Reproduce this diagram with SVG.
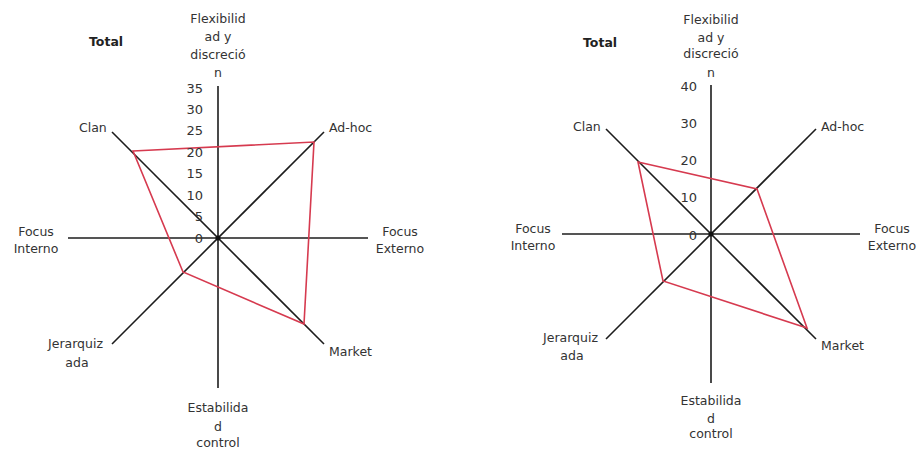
<svg xmlns="http://www.w3.org/2000/svg" width="917" height="449" viewBox="0 0 917 449">
<style>
.bg{fill:#ffffff}
.ax{stroke:#1c1c1c;stroke-width:1.6;fill:none}
.data{stroke:#d63a4f;stroke-width:1.6;fill:none;stroke-linejoin:miter}
text{font-family:"DejaVu Sans","Verdana",sans-serif;font-size:12.5px;fill:#333333}
.c{text-anchor:middle}
.r{text-anchor:end}
.tot{font-weight:bold;font-size:12.5px;fill:#222222}
.tick{font-size:13px}
</style>
<rect class="bg" x="0" y="0" width="917" height="449"/>

<g id="chart-left">
  <g id="left-axes">
    <line class="ax" x1="218" y1="86" x2="218" y2="388"/>
    <line class="ax" x1="68" y1="238" x2="368" y2="238"/>
    <line class="ax" x1="112" y1="132" x2="324" y2="344"/>
    <line class="ax" x1="324" y1="132" x2="112" y2="344"/>
    <circle cx="218" cy="238" r="2.5" fill="#111"/>
  </g>
  <g id="left-series">
    <polygon class="data" points="133,151 314,142 304,324 183,272"/>
  </g>
  <g id="left-ticks">
    <text class="r tick" x="203" y="92.5">35</text>
    <text class="r tick" x="203" y="114">30</text>
    <text class="r tick" x="203" y="135.4">25</text>
    <text class="r tick" x="203" y="156.8">20</text>
    <text class="r tick" x="203" y="178.3">15</text>
    <text class="r tick" x="203" y="199.7">10</text>
    <text class="r tick" x="203" y="221.1">5</text>
    <text class="r tick" x="203" y="242.5">0</text>
  </g>
  <g id="left-labels">
    <text class="tot" x="89" y="46">Total</text>
    <text class="c" x="218" y="22.5">Flexibilid</text>
    <text class="c" x="218" y="41">ad y</text>
    <text class="c" x="218" y="58.5">discreció</text>
    <text class="c" x="218" y="76.5">n</text>
    <text x="79" y="131.5">Clan</text>
    <text x="329" y="131.5">Ad-hoc</text>
    <text class="c" x="36" y="235.5">Focus</text>
    <text class="c" x="36" y="252.5">Interno</text>
    <text class="c" x="400" y="235.5">Focus</text>
    <text class="c" x="400" y="252.5">Externo</text>
    <text x="48" y="347.5">Jerarquiz</text>
    <text class="c" x="77" y="366.5">ada</text>
    <text x="329" y="355.5">Market</text>
    <text class="c" x="218" y="411.5">Estabilida</text>
    <text class="c" x="218" y="430.5">d</text>
    <text class="c" x="218" y="446.5">control</text>
  </g>
</g>

<g id="chart-right">
  <g id="right-axes">
    <line class="ax" x1="711" y1="85" x2="711" y2="383"/>
    <line class="ax" x1="562" y1="234" x2="860" y2="234"/>
    <line class="ax" x1="606" y1="129" x2="816" y2="339"/>
    <line class="ax" x1="816" y1="129" x2="606" y2="339"/>
    <circle cx="711" cy="234" r="2.5" fill="#111"/>
  </g>
  <g id="right-series">
    <polygon class="data" points="638,162 757,189 807,328 663,281"/>
  </g>
  <g id="right-ticks">
    <text class="r tick" x="697" y="90.5">40</text>
    <text class="r tick" x="697" y="127.8">30</text>
    <text class="r tick" x="697" y="165">20</text>
    <text class="r tick" x="697" y="202.3">10</text>
    <text class="r tick" x="697" y="239.5">0</text>
  </g>
  <g id="right-labels">
    <text class="tot" x="583" y="47">Total</text>
    <text class="c" x="711" y="23.5">Flexibilid</text>
    <text class="c" x="711" y="41.5">ad y</text>
    <text class="c" x="711" y="57.5">discreció</text>
    <text class="c" x="711" y="76.5">n</text>
    <text x="573" y="130.5">Clan</text>
    <text x="821" y="130.5">Ad-hoc</text>
    <text class="c" x="533" y="232.5">Focus</text>
    <text class="c" x="533" y="249.5">Interno</text>
    <text class="c" x="892" y="232.5">Focus</text>
    <text class="c" x="892" y="249.5">Externo</text>
    <text x="543" y="341.5">Jerarquiz</text>
    <text class="c" x="572" y="359.5">ada</text>
    <text x="821" y="349.5">Market</text>
    <text class="c" x="711" y="404.5">Estabilida</text>
    <text class="c" x="711" y="422.5">d</text>
    <text class="c" x="711" y="437.5">control</text>
  </g>
</g>
</svg>
